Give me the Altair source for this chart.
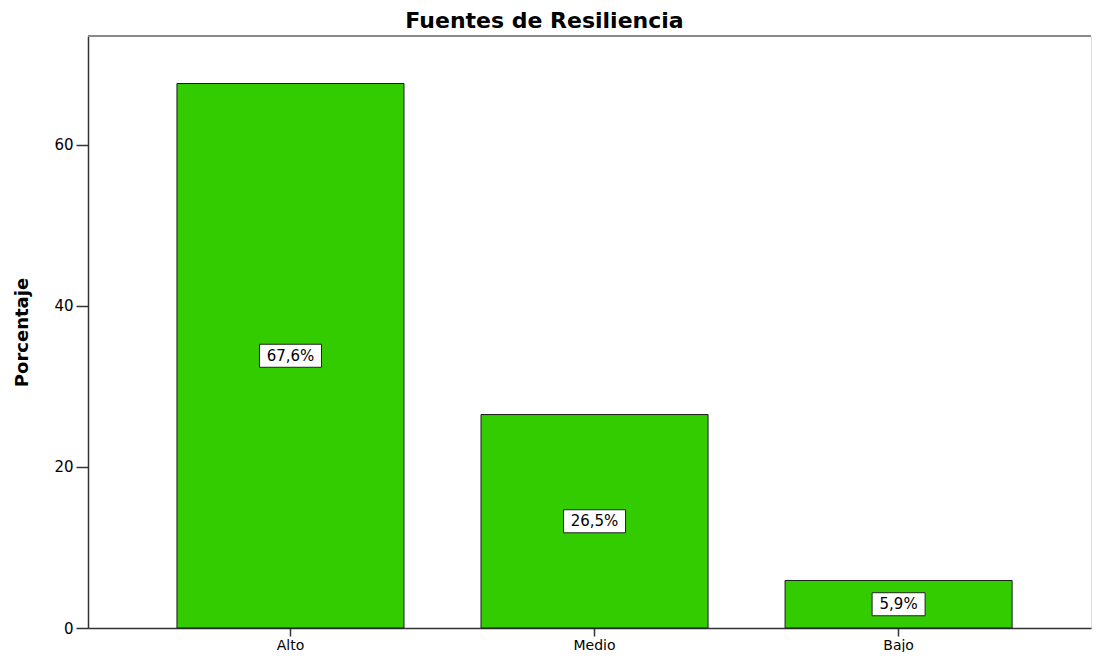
import altair as alt
import pandas as pd

# Data
categorias = ["Alto", "Medio", "Bajo"]
porcentajes = [67.6, 26.5, 5.9]
y_ticks = [0, 20, 40, 60]
titulo = "Fuentes de Resiliencia"
y_titulo = "Porcentaje"

df = pd.DataFrame({"nivel": categorias, "pct": porcentajes})

W = 1003
H = 592
YMAX = 73.5
FONT = "DejaVu Sans"
AXC = "#333333"

x_main = alt.X(
    "nivel:N", sort=categorias, title=None,
    scale=alt.Scale(paddingInner=0.2533, paddingOuter=0.276, align=0.53),
    axis=alt.Axis(labelAngle=0, labelFont=FONT, labelFontSize=14, labelColor="#000000",
                  tickSize=8, tickColor=AXC, tickWidth=1.5, labelPadding=2,
                  domainColor=AXC, domainWidth=1.5),
)
y_main = alt.Y(
    "pct:Q", title=y_titulo,
    scale=alt.Scale(domain=[0, YMAX], nice=False, zero=True),
    axis=alt.Axis(values=y_ticks, grid=False, tickSize=12, tickColor=AXC, tickWidth=1.5,
                  labelFont=FONT, labelFontSize=15, labelColor="#000000", labelPadding=3,
                  domainColor=AXC, domainWidth=1.5,
                  titleFont=FONT, titleFontSize=18, titleFontWeight="bold",
                  titleColor="#000000", titlePadding=22),
)

bars = alt.Chart(df).mark_bar(color="#33CC00", stroke="#1a1a1a", strokeWidth=1).encode(
    x=x_main, y=y_main
)

base = alt.Chart(df).transform_calculate(
    label="replace(format(datum.pct, '.1f'), '.', ',') + '%'",
    mid="datum.pct / 2",
    y0="datum.pct / 2 - 1.43",
    y1="datum.pct / 2 + 1.43",
    w="17 + 9 * length(replace(format(datum.pct, '.1f'), '.', ',') + '%')",
)

boxes = base.mark_bar(fill="white", stroke="#222222", strokeWidth=1).encode(
    x=alt.X("nivel:N", sort=categorias),
    y=alt.Y("y0:Q"),
    y2="y1:Q",
    size=alt.Size("w:Q", scale=None, legend=None),
)

texts = base.mark_text(font=FONT, fontSize=15, color="#000000").encode(
    x=alt.X("nivel:N", sort=categorias),
    y=alt.Y("mid:Q"),
    text="label:N",
)

top_line = alt.Chart(pd.DataFrame({"a": [0]})).mark_rule(color="#8a8a8a", strokeWidth=2).encode(
    x=alt.value(0), x2=alt.value(W), y=alt.value(0)
)

chart = alt.layer(bars, boxes, texts, top_line).properties(
    width=W, height=H,
    title=alt.Title(titulo, font=FONT, fontSize=22, fontWeight="bold", color="#000000",
                    anchor="middle", frame="group", dx=-45, offset=2),
    padding={"left": 5, "top": 2, "right": 0, "bottom": 0},
).configure_view(stroke="transparent", strokeWidth=0).configure(background="white")

chart.save("out.html", embed_options={"renderer": "svg", "actions": False})
